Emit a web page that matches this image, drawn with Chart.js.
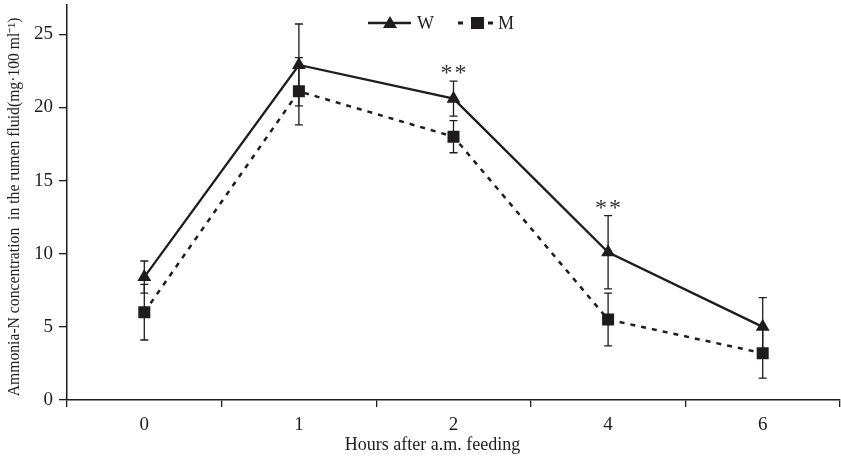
<!DOCTYPE html>
<html>
<head>
<meta charset="utf-8">
<script src="https://cdn.jsdelivr.net/npm/chart.js@4/dist/chart.umd.min.js"></script>
<style>
  html, body { margin: 0; padding: 0; background: #fff; }
  #wrap { width: 841px; height: 457px; position: relative; }
</style>
</head>
<body>
<div id="wrap"><canvas id="c" width="841" height="457"></canvas></div>
<script>
const categories = ['0', '1', '2', '4', '6'];
const wValues = [8.4, 22.9, 20.6, 10.1, 5.0];
const wErrors = [1.1, 2.8, 1.2, 2.5, 2.0];
const mValues = [6.0, 21.1, 18.0, 5.5, 3.2];
const mErrors = [1.9, 2.3, 1.1, 1.8, 1.7];
const significance = ['', '', '**', '**', ''];
const yTicks = [0, 5, 10, 15, 20, 25];
const xTitle = 'Hours after a.m. feeding';
const yTitle = 'Ammonia-N concentration  in the rumen fluid(mg·100 ml⁻¹)';

const INK = '#1e1c1d';
const SERIF = '"Liberation Serif", "Times New Roman", serif';

const errorBars = {
  id: 'errorBars',
  beforeDatasetsDraw(chart) {
    const ctx = chart.ctx;
    const y = chart.scales.y;
    const errs = [wErrors, mErrors];
    ctx.save();
    ctx.strokeStyle = INK;
    ctx.lineWidth = 1.3;
    chart.data.datasets.forEach((ds, di) => {
      const meta = chart.getDatasetMeta(di);
      meta.data.forEach((pt, i) => {
        const v = ds.data[i], e = errs[di][i];
        const top = y.getPixelForValue(v + e);
        const bot = y.getPixelForValue(v - e);
        const x = pt.x;
        ctx.beginPath();
        ctx.moveTo(x, top); ctx.lineTo(x, bot);
        ctx.moveTo(x - 4, top); ctx.lineTo(x + 4, top);
        ctx.moveTo(x - 4, bot); ctx.lineTo(x + 4, bot);
        ctx.stroke();
      });
    });
    ctx.restore();
  },
  afterDatasetsDraw(chart) {
    const ctx = chart.ctx;
    const y = chart.scales.y;
    const meta = chart.getDatasetMeta(0);
    ctx.save();
    ctx.fillStyle = '#333';
    ctx.font = '24px ' + SERIF;
    ctx.textAlign = 'center';
    ctx.textBaseline = 'alphabetic';
    if ('letterSpacing' in ctx) ctx.letterSpacing = '2px';
    significance.forEach((s, i) => {
      if (!s) return;
      const top = y.getPixelForValue(wValues[i] + wErrors[i]);
      ctx.fillText(s, meta.data[i].x + 1, top - 1);
    });
    ctx.restore();
  }
};

const titlesAndLegend = {
  id: 'titlesAndLegend',
  afterDraw(chart) {
    const ctx = chart.ctx;
    const area = chart.chartArea;
    ctx.save();
    ctx.fillStyle = INK;
    ctx.strokeStyle = INK;
    // axis titles
    ctx.textAlign = 'center';
    ctx.textBaseline = 'middle';
    ctx.font = '18px ' + SERIF;
    ctx.fillText(xTitle, (area.left + area.right) / 2 - 21, 445);
    ctx.save();
    ctx.translate(15, 207);
    ctx.rotate(-Math.PI / 2);
    ctx.font = '15.7px ' + SERIF;
    ctx.fillText(yTitle, 0, 0);
    ctx.restore();
    // legend
    const cy = 23;
    ctx.textAlign = 'left';
    ctx.lineWidth = 2.5;
    ctx.beginPath(); ctx.moveTo(368, cy); ctx.lineTo(411, cy); ctx.stroke();
    ctx.beginPath();
    ctx.moveTo(390, cy - 7); ctx.lineTo(397, cy + 5); ctx.lineTo(383, cy + 5); ctx.closePath(); ctx.fill();
    ctx.font = '18px ' + SERIF;
    ctx.fillText('W', 417, cy + 1);
    ctx.fillRect(458, cy - 1.5, 5, 3);
    ctx.fillRect(488, cy - 1.5, 5, 3);
    ctx.fillRect(471, cy - 6, 13, 12);
    ctx.fillText('M', 498, cy + 1);
    ctx.restore();
  }
};

new Chart(document.getElementById('c'), {
  type: 'line',
  data: {
    labels: categories,
    datasets: [
      {
        label: 'W',
        data: wValues,
        borderColor: INK,
        backgroundColor: INK,
        borderWidth: 2.3,
        pointStyle: 'triangle',
        pointRadius: 8,
        pointHoverRadius: 8,
        pointBackgroundColor: INK,
        pointBorderWidth: 0,
        tension: 0
      },
      {
        label: 'M',
        data: mValues,
        borderColor: INK,
        backgroundColor: INK,
        borderWidth: 2.5,
        borderDash: [5, 6],
        pointStyle: 'rect',
        pointRadius: 8.5,
        pointHoverRadius: 8.5,
        pointBackgroundColor: INK,
        pointBorderWidth: 0,
        tension: 0
      }
    ]
  },
  options: {
    responsive: false,
    animation: false,
    events: [],
    layout: { autoPadding: false, padding: { top: 5, right: 1, left: 0, bottom: 0 } },
    plugins: { legend: { display: false }, tooltip: { enabled: false } },
    scales: {
      x: {
        offset: true,
        grid: { display: true, drawOnChartArea: false, offset: true, tickLength: 7, color: INK, lineWidth: 1.3 },
        border: { display: true, color: INK, width: 1.5 },
        ticks: { color: INK, font: { family: SERIF, size: 19 }, padding: 7, maxRotation: 0 },
        title: { display: false },
        afterFit(s) { s.height = 57; s.paddingLeft = 0; s.paddingRight = 0; }
      },
      y: {
        min: 0,
        max: 27,
        afterBuildTicks(s) { s.ticks = yTicks.map(v => ({ value: v })); },
        grid: { display: true, drawOnChartArea: false, tickLength: 8, color: INK, lineWidth: 1.3 },
        border: { display: true, color: INK, width: 1.5 },
        ticks: { color: INK, font: { family: SERIF, size: 19 }, padding: 6 },
        title: { display: false },
        afterFit(s) { s.width = 67; s.paddingTop = 0; s.paddingBottom = 0; }
      }
    }
  },
  plugins: [errorBars, titlesAndLegend]
});
</script>
</body>
</html>
